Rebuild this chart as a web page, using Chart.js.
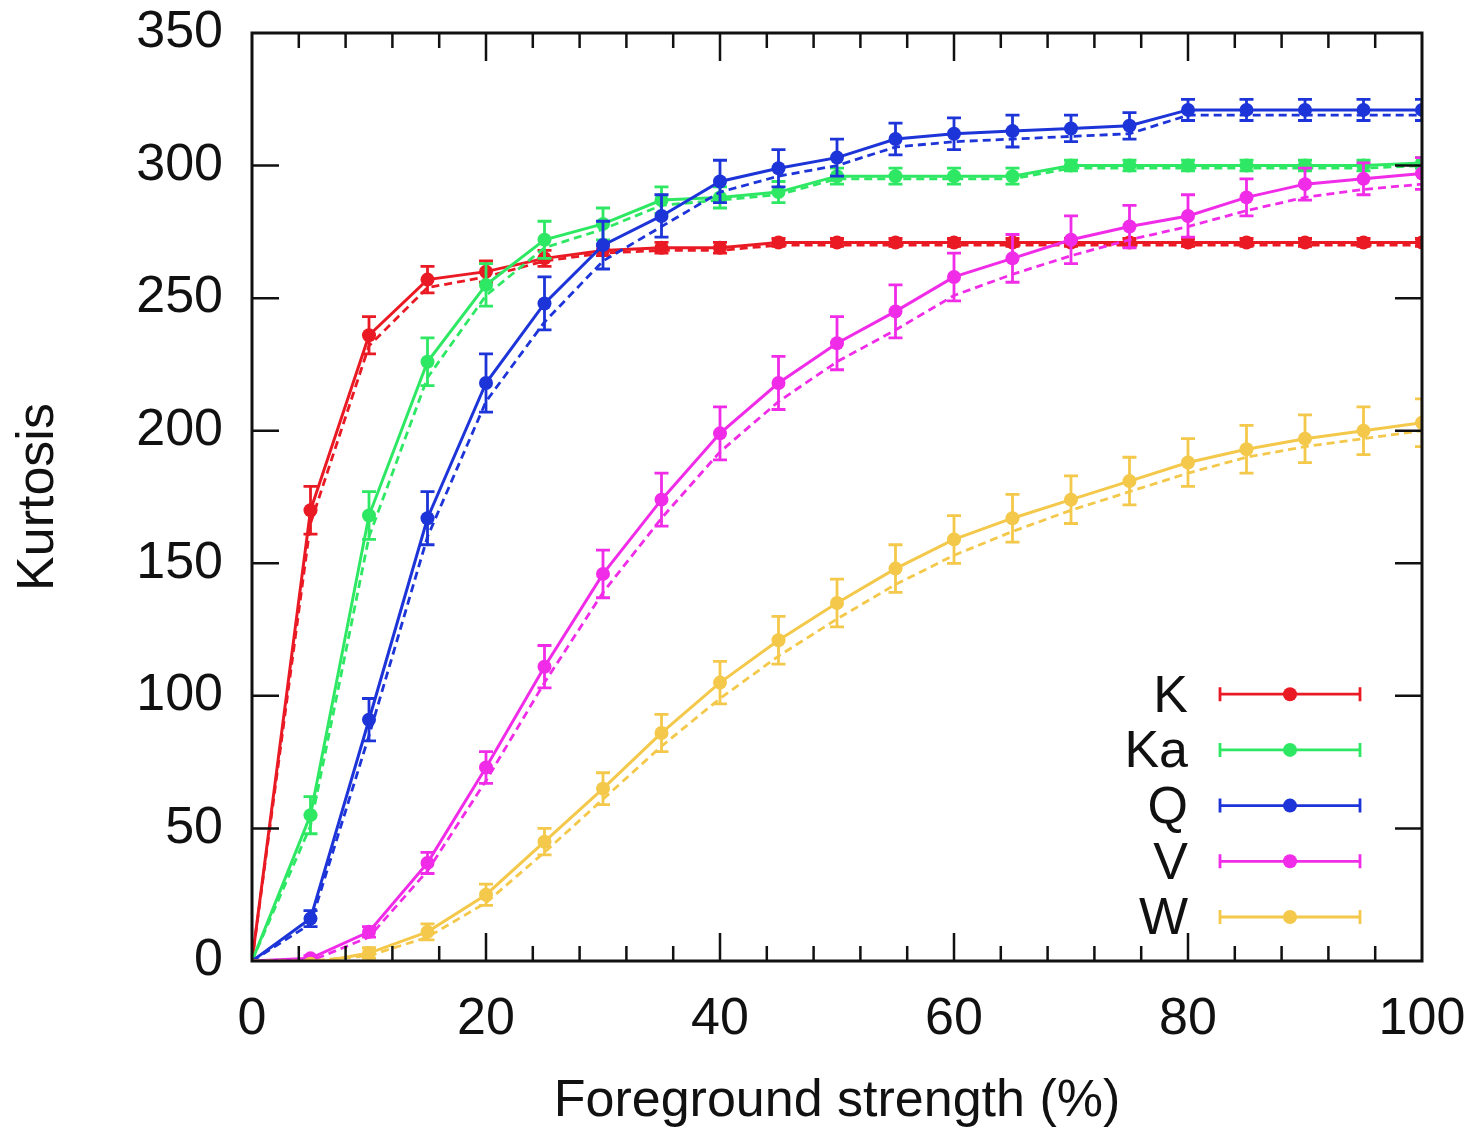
<!DOCTYPE html>
<html>
<head>
<meta charset="utf-8">
<title>Kurtosis vs foreground strength</title>
<script src="https://cdn.jsdelivr.net/npm/chart.js@4.4.1/dist/chart.umd.min.js"></script>
<style>
  html, body { margin: 0; padding: 0; background: #fff; }
  #wrap { width: 1483px; height: 1133px; }
</style>
</head>
<body>
<div id="wrap"><canvas id="kurtosis"></canvas></div>
<script>
const FONT = '"Liberation Sans", Arial, Helvetica, sans-serif';

// foreground strength (%)
const strength = [0, 5, 10, 15, 20, 25, 30, 35, 40, 45, 50, 55, 60, 65, 70, 75, 80, 85, 90, 95, 100];

const xTicks = [0, 20, 40, 60, 80, 100];
const xMinorStep = 4;
const yTicks = [0, 50, 100, 150, 200, 250, 300, 350];

const bandNames = ['K', 'Ka', 'Q', 'V', 'W'];
const bandColors = ['#ea1a24', '#2ee864', '#1c34d8', '#f02ce8', '#f4c84a'];

// mean kurtosis (solid) with its spread, and the second estimate (dashed)
const kMean = [0, 170, 236, 257, 260, 265, 268, 269, 269, 271, 271, 271, 271, 271, 271, 271, 271, 271, 271, 271, 271];
const kErr  = [0, 9, 7, 5, 4, 3, 2, 2, 2, 1.5, 1.5, 1.5, 1.5, 1.5, 1.5, 1.5, 1.5, 1.5, 1.5, 1.5, 1.5];
const kAlt  = [0, 165, 232, 254, 258, 264, 267, 268, 268, 270, 270, 270, 270, 270, 270, 270, 270, 270, 270, 270, 270];

const kaMean = [0, 55, 168, 226, 255, 272, 278, 287, 288, 290, 296, 296, 296, 296, 300, 300, 300, 300, 300, 300, 301];
const kaErr  = [0, 7, 9, 9, 8, 7, 6, 5, 4, 4, 3, 3, 3, 3, 2, 2, 2, 2, 2, 2, 2];
const kaAlt  = [0, 51, 160, 220, 251, 269, 276, 285, 287, 289, 295, 295, 295, 295, 299, 299, 299, 299, 299, 299, 300];

const qMean = [0, 16, 91, 167, 218, 248, 270, 281, 294, 299, 303, 310, 312, 313, 314, 315, 321, 321, 321, 321, 321];
const qErr  = [0, 3, 8, 10, 11, 10, 9, 8, 8, 7, 7, 6, 6, 6, 5, 5, 4, 4, 4, 4, 4];
const qAlt  = [0, 14, 85, 160, 211, 241, 264, 277, 290, 296, 300, 307, 309, 310, 311, 312, 319, 319, 319, 319, 319];

const vMean = [0, 1, 11, 37, 73, 111, 146, 174, 199, 218, 233, 245, 258, 265, 272, 277, 281, 288, 293, 295, 297];
const vErr  = [0, 1, 2, 4, 6, 8, 9, 10, 10, 10, 10, 10, 9, 9, 9, 8, 8, 7, 6, 6, 6];
const vAlt  = [0, 0, 9, 34, 68, 105, 139, 167, 192, 211, 226, 238, 251, 259, 266, 272, 277, 283, 288, 291, 293];

const wMean = [0, -1, 3, 11, 25, 45, 65, 86, 105, 121, 135, 148, 159, 167, 174, 181, 188, 193, 197, 200, 203];
const wErr  = [0, 1, 2, 3, 4, 5, 6, 7, 8, 9, 9, 9, 9, 9, 9, 9, 9, 9, 9, 9, 9];
const wAlt  = [0, 0, 2, 9, 22, 41, 61, 81, 99, 115, 129, 142, 153, 162, 170, 177, 184, 190, 194, 197, 200];

const means = [kMean, kaMean, qMean, vMean, wMean];
const errs = [kErr, kaErr, qErr, vErr, wErr];
const alts = [kAlt, kaAlt, qAlt, vAlt, wAlt];

function toPoints(values) {
    return values.map((v, i) => ({ x: strength[i], y: v }));
}

const datasets = [];
bandNames.forEach((name, b) => {
    // later bands sit on top, as in the original plot order
    datasets.push({
        label: name + ' (alt)',
        data: toPoints(alts[b]),
        borderColor: bandColors[b],
        borderWidth: 2.8,
        borderDash: [8, 5],
        pointRadius: 0,
        order: 20 - b * 2,
    });
    datasets.push({
        label: name,
        data: toPoints(means[b]),
        errors: errs[b],
        legendEntry: true,
        borderColor: bandColors[b],
        backgroundColor: bandColors[b],
        borderWidth: 3,
        pointRadius: ctx => (ctx.dataIndex === 0 ? 0 : 7),
        pointBorderWidth: 0,
        order: 19 - b * 2,
    });
});

// vertical error bars with caps, drawn right after each series
const errorBars = {
    id: 'errorBars',
    afterDatasetDraw(chart, args) {
        const ds = chart.data.datasets[args.index];
        if (!ds.errors) return;
        const { ctx, chartArea, scales: { x, y } } = chart;
        ctx.save();
        ctx.beginPath();
        ctx.rect(chartArea.left, chartArea.top, chartArea.right - chartArea.left, chartArea.bottom - chartArea.top);
        ctx.clip();
        ctx.strokeStyle = ds.borderColor;
        ctx.lineWidth = 2.8;
        ds.data.forEach((p, i) => {
            const e = ds.errors[i];
            if (!e) return;
            const px = x.getPixelForValue(p.x);
            const top = y.getPixelForValue(p.y + e);
            const bot = y.getPixelForValue(p.y - e);
            ctx.beginPath();
            ctx.moveTo(px, top); ctx.lineTo(px, bot);
            ctx.moveTo(px - 7, top); ctx.lineTo(px + 7, top);
            ctx.moveTo(px - 7, bot); ctx.lineTo(px + 7, bot);
            ctx.stroke();
        });
        ctx.restore();
    }
};

// closed frame with inward ticks on all four sides
const frame = {
    id: 'frame',
    afterDatasetsDraw(chart) {
        const { ctx, chartArea: a, scales: { x, y } } = chart;
        ctx.save();
        ctx.strokeStyle = '#111';
        ctx.lineWidth = 2.5;
        ctx.beginPath();
        for (let v = 0; v <= 100; v += xMinorStep) {
            const len = xTicks.includes(v) ? 28 : 15;
            if (v === 0 || v === 100) continue;
            const px = x.getPixelForValue(v);
            ctx.moveTo(px, a.bottom); ctx.lineTo(px, a.bottom - len);
            ctx.moveTo(px, a.top); ctx.lineTo(px, a.top + len);
        }
        yTicks.forEach(v => {
            if (v === 0 || v === 350) return;
            const py = y.getPixelForValue(v);
            ctx.moveTo(a.left, py); ctx.lineTo(a.left + 27, py);
            ctx.moveTo(a.right, py); ctx.lineTo(a.right - 27, py);
        });
        ctx.stroke();
        ctx.lineWidth = 3;
        ctx.strokeRect(a.left, a.top, a.right - a.left, a.bottom - a.top);
        ctx.restore();
    }
};

// key inside the plot, lower right
const key = {
    id: 'key',
    afterDraw(chart) {
        const { ctx, chartArea: a } = chart;
        const entries = chart.data.datasets.filter(d => d.legendEntry);
        const x0 = a.right - 202, x1 = a.right - 62, xm = (x0 + x1) / 2;
        const textRight = a.right - 234;
        ctx.save();
        ctx.font = '52px ' + FONT;
        ctx.textAlign = 'right';
        ctx.textBaseline = 'middle';
        ctx.lineWidth = 2.8;
        entries.forEach((d, i) => {
            const py = a.bottom - 44 - (entries.length - 1 - i) * 55.7;
            ctx.fillStyle = '#111';
            ctx.fillText(d.label, textRight, py + 3);
            ctx.strokeStyle = d.borderColor;
            ctx.beginPath();
            ctx.moveTo(x0, py); ctx.lineTo(x1, py);
            ctx.moveTo(x0, py - 7); ctx.lineTo(x0, py + 7);
            ctx.moveTo(x1, py - 7); ctx.lineTo(x1, py + 7);
            ctx.stroke();
            ctx.fillStyle = d.borderColor;
            ctx.beginPath();
            ctx.arc(xm, py, 7, 0, Math.PI * 2);
            ctx.fill();
        });
        ctx.restore();
    }
};

new Chart(document.getElementById('kurtosis'), {
    type: 'line',
    data: { datasets },
    plugins: [errorBars, frame, key],
    options: {
        responsive: true,
        maintainAspectRatio: false,
        animation: false,
        layout: { padding: { top: 33, right: 61, left: 0, bottom: 0 } },
        plugins: { legend: { display: false }, tooltip: { enabled: false } },
        scales: {
            x: {
                type: 'linear',
                min: 0,
                max: 100,
                afterBuildTicks: s => { s.ticks = xTicks.map(v => ({ value: v })); },
                afterFit: s => { s.height = 172; s.paddingLeft = 0; s.paddingRight = 0; },
                grid: { display: false },
                border: { display: false },
                ticks: { color: '#111', font: { family: FONT, size: 52 }, padding: 19, maxRotation: 0 },
                title: {
                    display: true,
                    text: 'Foreground strength (%)',
                    color: '#111',
                    font: { family: FONT, size: 52 },
                    padding: { top: 0, bottom: 0 },
                },
            },
            y: {
                type: 'linear',
                min: 0,
                max: 350,
                afterBuildTicks: s => { s.ticks = yTicks.map(v => ({ value: v })); },
                afterFit: s => { s.width = 252; s.paddingTop = 0; s.paddingBottom = 0; },
                grid: { display: false },
                border: { display: false },
                ticks: { color: '#111', font: { family: FONT, size: 52 }, padding: 21 },
                title: {
                    display: true,
                    text: 'Kurtosis',
                    color: '#111',
                    font: { family: FONT, size: 52 },
                    padding: { top: 7, bottom: 0 },
                },
            },
        },
    },
});
</script>
</body>
</html>
